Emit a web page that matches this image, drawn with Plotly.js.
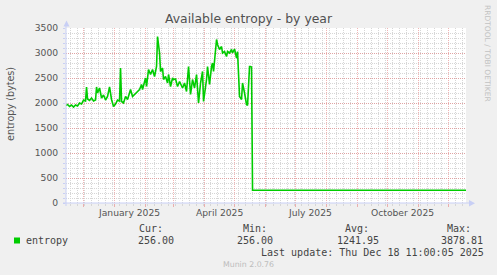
<!DOCTYPE html>
<html>
<head>
<meta charset="utf-8">
<script src="https://cdn.plot.ly/plotly-3.0.1.min.js"></script>
<style>
html,body{margin:0;padding:0;background:#F0F0F0;}
#chart{width:497px;height:275px;}
</style>
</head>
<body>
<div id="chart"></div>
<script>
// ---- data ----
const dates = [
  "2024-11-13","2024-11-15","2024-11-17","2024-11-19","2024-11-21","2024-11-23","2024-11-25","2024-11-27","2024-11-29",
  "2024-12-01","2024-12-03","2024-12-04","2024-12-05","2024-12-07","2024-12-09","2024-12-11","2024-12-13","2024-12-14",
  "2024-12-15","2024-12-17","2024-12-19","2024-12-21","2024-12-23","2024-12-25","2024-12-27","2024-12-29","2024-12-31",
  "2025-01-02","2025-01-04","2025-01-06","2025-01-07","2025-01-08","2025-01-10","2025-01-12","2025-01-14","2025-01-17",
  "2025-01-19","2025-01-21","2025-01-23","2025-01-26","2025-01-28","2025-01-29",
  "2025-02-01","2025-02-02","2025-02-04","2025-02-06","2025-02-08","2025-02-10","2025-02-12","2025-02-13","2025-02-15",
  "2025-02-16","2025-02-18","2025-02-19","2025-02-21","2025-02-23","2025-02-24","2025-02-26","2025-02-28",
  "2025-03-01","2025-03-03","2025-03-05","2025-03-07","2025-03-10","2025-03-12","2025-03-14","2025-03-16","2025-03-18",
  "2025-03-20","2025-03-22","2025-03-24","2025-03-26","2025-03-28","2025-03-30","2025-03-31",
  "2025-04-03","2025-04-04","2025-04-06","2025-04-08","2025-04-09","2025-04-10","2025-04-13","2025-04-14","2025-04-16",
  "2025-04-18","2025-04-19","2025-04-21","2025-04-23","2025-04-24","2025-04-26","2025-04-28","2025-04-29",
  "2025-05-01","2025-05-03","2025-05-04","2025-05-06","2025-05-08","2025-05-09","2025-05-11","2025-05-13","2025-05-14",
  "2025-05-15","2025-05-16","2025-05-17","2025-05-18","2025-05-19","2025-12-18 11:00"
];
const entropy = [
  1950,1970,1930,1960,1920,1960,1940,2000,1980,
  2060,2040,2320,2080,2050,2100,2040,2060,2320,
  2200,2300,2100,2160,2060,2130,2320,2070,1930,
  1980,2060,2040,2700,2030,2000,2130,2070,2270,
  2130,2170,2200,2270,2370,2270,
  2500,2330,2670,2570,2670,2530,2730,3330,3000,
  2630,2700,2470,2530,2400,2570,2330,2500,
  2470,2480,2330,2430,2300,2400,2230,2730,2170,
  2470,2300,2570,2000,2400,2630,2030,
  2470,2730,2370,2730,2800,2630,3270,3170,3070,
  3130,3000,3030,2930,3030,3000,3070,3000,
  3080,2900,3030,2130,2070,2400,2200,1970,1950,
  2500,2730,2730,2720,256,256
];
const xRange = ["2024-11-13 11:00", "2025-12-18 11:00"];
const yTicks = [0, 500, 1000, 1500, 2000, 2500, 3000, 3500];
const monthLabels = ["January 2025", "April 2025", "July 2025", "October 2025"];
const monthLabelDates = ["2025-01-15 12:00", "2025-04-15 12:00", "2025-07-15 12:00", "2025-10-15 12:00"];
const legendHeaders = ["Cur:", "Min:", "Avg:", "Max:"];
const legendValues = ["256.00", "256.00", "1241.95", "3878.81"];
const seriesName = "entropy";
const lastUpdate = "Last update: Thu Dec 18 11:00:05 2025";

// ---- layout helpers (pixel -> paper) ----
const W = 497, H = 275, L = 66, T = 28, PW = 400, PH = 175;
const px = x => (x - L) / PW;
const py = y => (T + PH - y) / PH;

const MAJOR = "rgba(230,130,130,0.6)";
const MINOR = "#d6d6d6";
const AXIS = "#c8cff5";
const TXT = "#555555";
const SANS = "DejaVu Sans, sans-serif";
const MONO = "DejaVu Sans Mono, monospace";

const trace = {
  x: dates, y: entropy, type: "scatter", mode: "lines",
  line: {color: "#00CC00", width: 1.6},
  hoverinfo: "skip"
};

const annotations = [];
monthLabels.forEach((t, i) => annotations.push({
  text: t, x: monthLabelDates[i], xref: "x", y: py(212.5), yref: "paper",
  showarrow: false, xanchor: "center", yanchor: "middle",
  font: {family: SANS, size: 9.2, color: TXT}, borderpad: 0, borderwidth: 0
}));
annotations.push({
  text: "entropy (bytes)", x: px(10), y: py(104), xref: "paper", yref: "paper",
  textangle: -90, showarrow: false, xanchor: "center", yanchor: "middle",
  font: {family: SANS, size: 9.6, color: TXT}, borderpad: 0, borderwidth: 0
});
annotations.push({
  text: "RRDTOOL / TOBI OETIKER", x: px(487.5), y: py(53.5), xref: "paper", yref: "paper",
  textangle: 90, showarrow: false, xanchor: "center", yanchor: "middle",
  font: {family: SANS, size: 7.5, color: "#c2c2c2"}, borderpad: 0, borderwidth: 0
});
const headerX = [139, 242.5, 344.5, 447];
const valueX = [138, 236.5, 337, 441];
legendHeaders.forEach((t, i) => annotations.push({
  text: t, x: px(headerX[i]), y: py(228.5), xref: "paper", yref: "paper",
  showarrow: false, xanchor: "left", yanchor: "middle",
  font: {family: MONO, size: 10, color: "#444"}, borderpad: 0, borderwidth: 0
}));
legendValues.forEach((t, i) => annotations.push({
  text: t, x: px(valueX[i]), y: py(240.5), xref: "paper", yref: "paper",
  showarrow: false, xanchor: "left", yanchor: "middle",
  font: {family: MONO, size: 10, color: "#444"}, borderpad: 0, borderwidth: 0
}));
annotations.push({
  text: seriesName, x: px(26), y: py(240.5), xref: "paper", yref: "paper",
  showarrow: false, xanchor: "left", yanchor: "middle",
  font: {family: MONO, size: 10, color: "#444"}, borderpad: 0, borderwidth: 0
});
annotations.push({
  text: lastUpdate, x: px(261), y: py(252), xref: "paper", yref: "paper",
  showarrow: false, xanchor: "left", yanchor: "middle",
  font: {family: MONO, size: 10, color: "#444"}, borderpad: 0, borderwidth: 0
});
annotations.push({
  text: "Munin 2.0.76", x: px(248), y: py(264), xref: "paper", yref: "paper",
  showarrow: false, xanchor: "center", yanchor: "middle",
  font: {family: SANS, size: 7.8, color: "#bdbdbd"}, borderpad: 0, borderwidth: 0
});

const shapes = [
  // axis lines
  {type: "line", xref: "paper", yref: "paper", x0: px(66), x1: px(66), y0: py(206), y1: py(25), line: {color: AXIS, width: 1}, layer: "above"},
  {type: "line", xref: "paper", yref: "paper", x0: px(63), x1: px(470), y0: py(203), y1: py(203), line: {color: AXIS, width: 1}, layer: "above"},
  // arrows
  {type: "path", xref: "paper", yref: "paper",
   path: `M ${px(63.5)} ${py(26.5)} L ${px(69.5)} ${py(26.5)} L ${px(66.5)} ${py(20.5)} Z`,
   fillcolor: AXIS, line: {width: 0}, layer: "above"},
  {type: "path", xref: "paper", yref: "paper",
   path: `M ${px(469)} ${py(200)} L ${px(469)} ${py(206.5)} L ${px(475)} ${py(203.3)} Z`,
   fillcolor: AXIS, line: {width: 0}, layer: "above"},
  // legend swatch
  {type: "rect", xref: "paper", yref: "paper", x0: px(14), x1: px(20), y0: py(237.5), y1: py(243.5),
   fillcolor: "#00CC00", line: {width: 0}}
];

const layout = {
  width: W, height: H,
  margin: {l: L, r: W - L - PW, t: T, b: H - T - PH, pad: 0},
  paper_bgcolor: "#F0F0F0", plot_bgcolor: "#FFFFFF",
  showlegend: false,
  title: {
    text: "Available entropy - by year",
    x: 0.5, xref: "container", xanchor: "center",
    y: 1 - 18.5 / H, yref: "container", yanchor: "middle",
    font: {family: SANS, size: 12.4, color: "#505050"}
  },
  xaxis: {
    type: "date", range: xRange, fixedrange: true,
    tick0: "2024-12-01", dtick: "M1",
    showticklabels: false,
    ticks: "outside", ticklen: 3, tickcolor: MAJOR, tickwidth: 1,
    showgrid: true, gridcolor: MAJOR, gridwidth: 1, griddash: "1px,1px",
    zeroline: false, showline: false,
    minor: {tick0: "2024-12-02", dtick: 7 * 86400000, showgrid: true, gridcolor: MINOR, griddash: "1px,1px",
            ticks: "outside", ticklen: 2, tickcolor: MINOR}
  },
  yaxis: {
    range: [0, 3500], fixedrange: true,
    tickvals: yTicks, ticktext: yTicks.map(String),
    ticks: "outside", ticklen: 2, tickcolor: AXIS, ticklabelstandoff: 3,
    tickfont: {family: SANS, size: 9.2, color: TXT},
    showgrid: true, gridcolor: MAJOR, gridwidth: 1, griddash: "1px,1px",
    zeroline: false, showline: false,
    minor: {dtick: 100, tick0: 0, showgrid: true, gridcolor: MINOR, griddash: "1px,1px",
            ticks: "outside", ticklen: 2, tickcolor: AXIS}
  },
  annotations: annotations,
  shapes: shapes
};

Plotly.newPlot("chart", [trace], layout, {staticPlot: true, displayModeBar: false});
</script>
</body>
</html>
